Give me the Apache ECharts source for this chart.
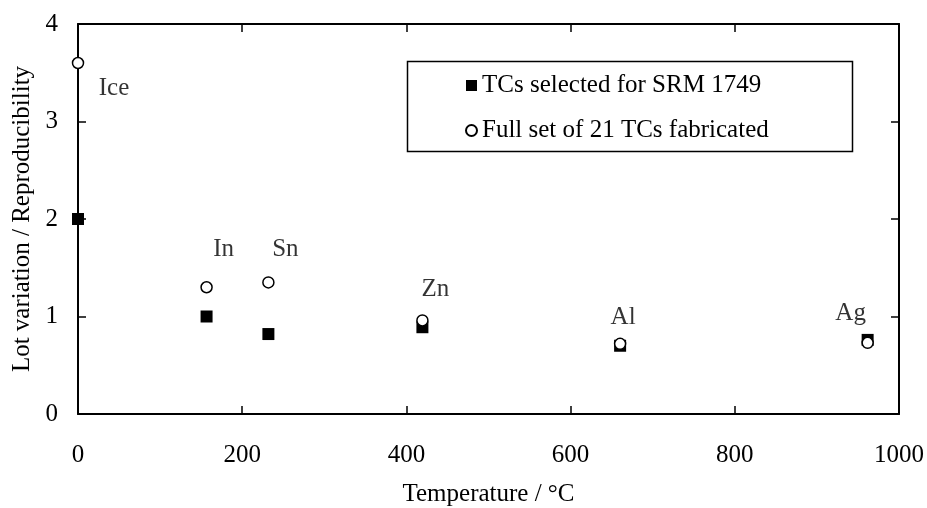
<!DOCTYPE html>
<html>
<head>
<meta charset="utf-8">
<script src="https://cdn.jsdelivr.net/npm/echarts@6/dist/echarts.min.js"></script>
<style>html,body{margin:0;padding:0;background:#fff}#c{width:927px;height:508px}</style>
</head>
<body>
<div id="c"></div>
<script>
// Data
var pointNames = ['Ice', 'In', 'Sn', 'Zn', 'Al', 'Ag'];
var temperatures = [0, 156.6, 231.9, 419.5, 660.3, 961.8];
var selectedTCs = [2.0, 1.0, 0.82, 0.89, 0.70, 0.76];
var fullSetTCs = [3.6, 1.30, 1.35, 0.96, 0.72, 0.73];
var xTicks = [0, 200, 400, 600, 800, 1000];
var yTicks = [0, 1, 2, 3, 4];
var seriesNames = ['TCs selected for SRM 1749', 'Full set of 21 TCs fabricated'];
var xTitle = 'Temperature / °C';
var yTitle = 'Lot variation / Reproducibility';

// label offsets (style only, pixels relative to circle marker)
var labelOffsets = [[36, 25], [17, -38], [17, -33], [13, -31], [3, -26], [-17, -29]];

var FONT = '"Liberation Serif", "Times New Roman", serif';
var FS = 25;

var chart = echarts.init(document.getElementById('c'));

function pairs(vals) { return temperatures.map(function (t, i) { return [t, vals[i]]; }); }

var labelData = temperatures.map(function (t, i) {
  return {
    value: [t, fullSetTCs[i]],
    label: {
      show: true, formatter: pointNames[i], position: 'inside',
      offset: labelOffsets[i], color: '#000', fontFamily: FONT, fontSize: FS
    }
  };
});

function xAxisCfg(pos, extra) {
  return Object.assign({
    type: 'value', position: pos, min: xTicks[0], max: xTicks[xTicks.length - 1], interval: 200,
    axisLine: { show: true, onZero: false, lineStyle: { color: '#000', width: 2 } },
    axisTick: { show: true, inside: true, length: 8, lineStyle: { color: '#000', width: 1.5 } },
    splitLine: { show: false }
  }, extra);
}
function yAxisCfg(pos, extra) {
  return Object.assign({
    type: 'value', position: pos, min: yTicks[0], max: yTicks[yTicks.length - 1], interval: 1,
    axisLine: { show: true, onZero: false, lineStyle: { color: '#000', width: 2 } },
    axisTick: { show: true, inside: true, length: 8, lineStyle: { color: '#000', width: 1.5 } },
    splitLine: { show: false }
  }, extra);
}

chart.setOption({
  backgroundColor: '#fff',
  animation: false,
  grid: { left: 78, right: 28, top: 24, bottom: 94, containLabel: false, outerBoundsMode: 'none' },
  xAxis: [
    xAxisCfg('bottom', {
      name: xTitle, nameLocation: 'middle', nameGap: 68,
      nameTextStyle: { color: '#000', fontFamily: FONT, fontSize: FS },
      axisLabel: { color: '#000', fontFamily: FONT, fontSize: FS, margin: 29,
        formatter: function (v) { return String(v); } }
    }),
    xAxisCfg('top', { axisLabel: { show: false } })
  ],
  yAxis: [
    yAxisCfg('left', {
      name: yTitle, nameLocation: 'middle', nameGap: 43,
      nameTextStyle: { color: '#000', fontFamily: FONT, fontSize: FS },
      axisLabel: { color: '#000', fontFamily: FONT, fontSize: FS, margin: 20,
        formatter: function (v) { return String(v); } }
    }),
    yAxisCfg('right', { axisLabel: { show: false } })
  ],
  legend: {
    left: 460, top: 68, orient: 'vertical', itemGap: 20,
    itemWidth: 11, itemHeight: 11,
    textStyle: { color: '#000', fontFamily: FONT, fontSize: FS },
    data: seriesNames
  },
  graphic: [{
    type: 'rect', left: 405, top: 59,
    shape: { width: 445, height: 90 },
    style: { fill: 'none', stroke: '#000', lineWidth: 1.5 },
    z: 10
  }],
  series: [
    {
      name: seriesNames[0], type: 'scatter', symbol: 'rect', symbolSize: 12,
      itemStyle: { color: '#000', borderColor: '#000', borderWidth: 0, opacity: 1 },
      data: pairs(selectedTCs), z: 3
    },
    {
      name: seriesNames[1], type: 'scatter', symbol: 'circle', symbolSize: 11,
      itemStyle: { color: '#fff', borderColor: '#000', borderWidth: 1.5, opacity: 1 },
      data: pairs(fullSetTCs), z: 4
    },
    {
      name: 'labels', type: 'scatter', symbolSize: 0, silent: true,
      data: labelData, z: 5
    }
  ]
});
</script>
</body>
</html>
